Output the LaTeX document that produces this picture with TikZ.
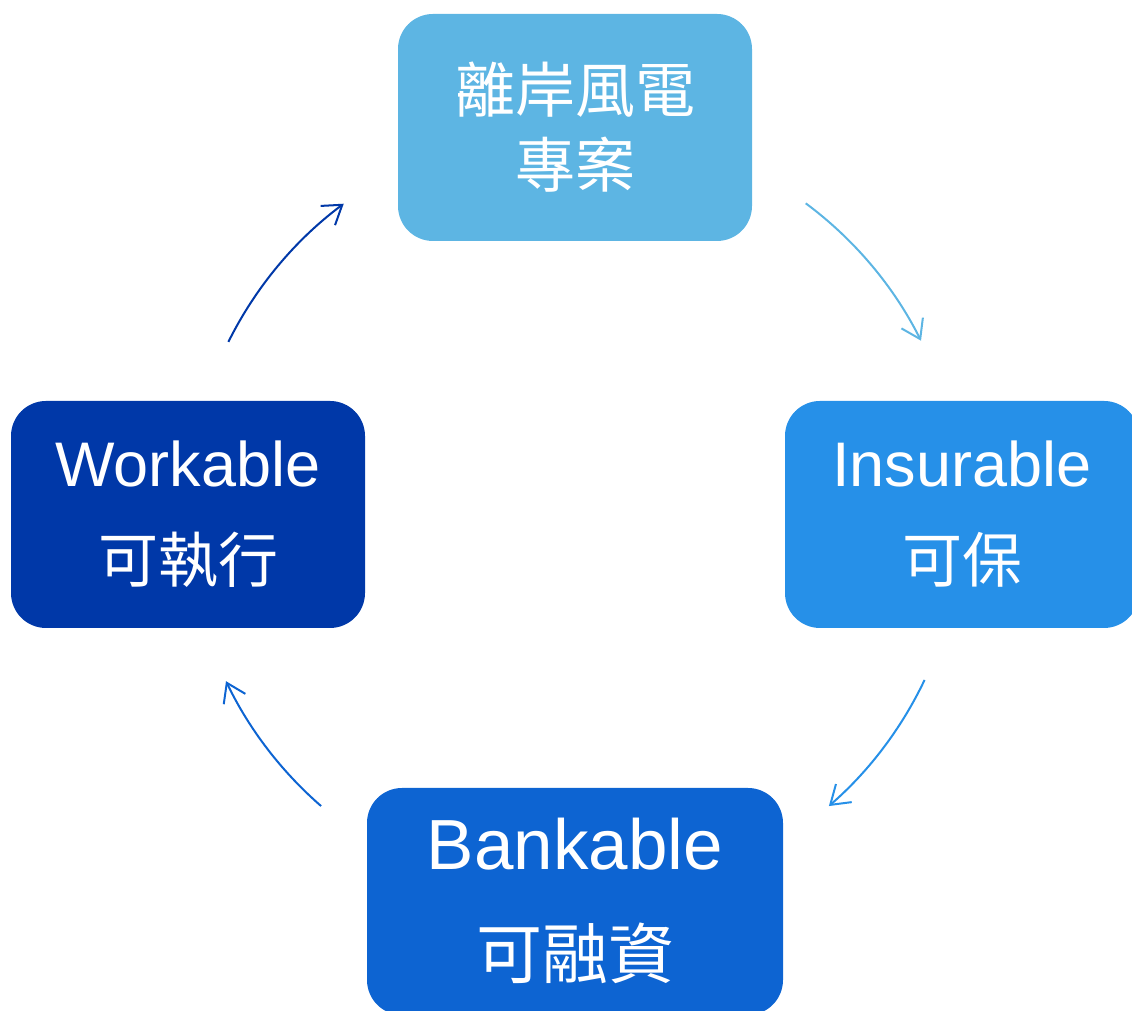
\documentclass[tikz,border=0pt]{standalone}
\usepackage{fontspec}
\setmainfont{Liberation Sans}
\newfontfamily\cjk{Noto Sans CJK TC}
\usetikzlibrary{arrows.meta,calc}
\definecolor{ctop}{HTML}{5DB5E3}
\definecolor{cright}{HTML}{2690E8}
\definecolor{cbottom}{HTML}{0D64D2}
\definecolor{cleft}{HTML}{0038A8}
\tikzset{
  box/.style={rectangle, rounded corners=17.5pt, draw=none, inner sep=0pt},
  lat/.style={text=white, anchor=base, inner sep=0pt, font=\fontsize{31.5pt}{36pt}\selectfont},
  han/.style={text=white, anchor=center, inner sep=0pt, font=\cjk\fontsize{30pt}{36pt}\selectfont},
  cyc/.style={line width=1pt, -{Straight Barb[length=9pt,width=12pt,line width=1pt]}},
}
\begin{document}
\begin{tikzpicture}[x=0.5pt,y=0.5pt]
\useasboundingbox (0,0) rectangle (1132,1011);
\clip (0,0) rectangle (1132,1011);
% boxes (y = 1011 - pixel row)
\node[box, fill=ctop, minimum width=177pt, minimum height=113.5pt] (top) at (575,883.5) {};
\node[box, fill=cleft, minimum width=177pt, minimum height=113.5pt] (left) at (188,496.5) {};
\node[box, fill=cright, minimum width=177pt, minimum height=113.5pt] (right) at (962,496.5) {};
\node[box, fill=cbottom, minimum width=208pt, minimum height=113.5pt] (bottom) at (575,109.5) {};
% texts
\node[han] (t1) at (575,921) {離岸風電};
\node[han] (t2) at (575,846) {專案};
\node[lat] (l1) at (188,524) {Workable};
\node[han] (l2) at (188,451) {可執行};
\node[lat] (r1) at (962,524) {Insurable};
\node[han] (r2) at (962,451) {可保};
\node[lat, font=\fontsize{35.5pt}{40pt}\selectfont] (b1) at (575,141) {Bankable};
\node[han, font=\cjk\fontsize{33pt}{40pt}\selectfont] (b2) at (575,58) {可融資};
% cycle arrows on a circle
\coordinate (c) at (575,497);
\coordinate (a1) at ($(c)+(53.4:193.5pt)$);
\coordinate (a2) at ($(c)+(-25.4:193.5pt)$);
\coordinate (a3) at ($(c)+(-131:193.5pt)$);
\coordinate (a4) at ($(c)+(153.6:193.5pt)$);
\draw[cyc, ctop] (a1) arc[start angle=53.4, end angle=26.6, radius=193.5pt];
\draw[cyc, cright] (a2) arc[start angle=-25.4, end angle=-49, radius=193.5pt];
\draw[cyc, cbottom] (a3) arc[start angle=-131, end angle=-154.4, radius=193.5pt];
\draw[cyc, cleft] (a4) arc[start angle=153.6, end angle=126.7, radius=193.5pt];
\end{tikzpicture}
\end{document}
